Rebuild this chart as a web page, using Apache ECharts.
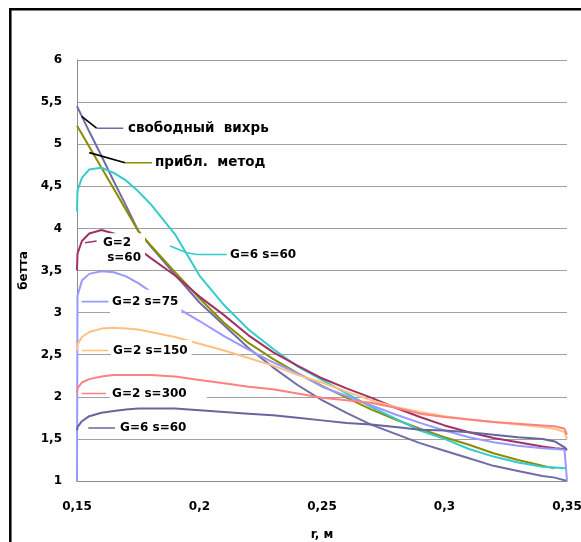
<!DOCTYPE html>
<html>
<head>
<meta charset="utf-8">
<script src="https://cdn.jsdelivr.net/npm/echarts@6/dist/echarts.min.js"></script>
<style>
html, body { margin: 0; padding: 0; background: #fff; }
#main { width: 581px; height: 542px; }
</style>
</head>
<body>
<div id="main"></div>
<script>
// радиус, м (общая сетка по оси x)
var rGrid = [0.15, 0.1502, 0.152, 0.155, 0.16, 0.165, 0.17, 0.175, 0.18, 0.19, 0.2, 0.21, 0.22, 0.23, 0.24,
  0.25, 0.26, 0.27, 0.28, 0.29, 0.3, 0.31, 0.32, 0.33, 0.34, 0.345, 0.349, 0.35];

// бетта для каждой кривой
var freeVortex = [5.45, 5.44, 5.33, 5.15, 4.86, 4.56, 4.27, 3.97, 3.79, 3.45, 3.12, 2.85, 2.58, 2.35, 2.14,
  1.96, 1.81, 1.67, 1.56, 1.45, 1.36, 1.27, 1.18, 1.12, 1.06, 1.04, 1.01, 1.0];
var approxMethod = [5.22, 5.21, 5.12, 4.97, 4.72, 4.47, 4.22, 3.97, 3.8, 3.48, 3.17, 2.88, 2.64, 2.45, 2.28,
  2.13, 1.99, 1.85, 1.73, 1.62, 1.52, 1.43, 1.33, 1.25, 1.18, 1.15, null, null];
var g6s60 = [4.2, 4.45, 4.6, 4.7, 4.72, 4.66, 4.57, 4.44, 4.29, 3.93, 3.44, 3.09, 2.8, 2.57, 2.36,
  2.2, 2.04, 1.88, 1.74, 1.6, 1.5, 1.38, 1.29, 1.22, 1.17, 1.16, 1.15, 1.15];
var g2s60 = [3.5, 3.7, 3.85, 3.94, 3.98, 3.94, 3.85, 3.76, 3.65, 3.44, 3.19, 2.97, 2.73, 2.53, 2.37,
  2.22, 2.1, 1.99, 1.87, 1.76, 1.66, 1.58, 1.51, 1.46, 1.41, 1.39, 1.38, 1.37];
var g2s75 = [1.0, 3.2, 3.38, 3.46, 3.49, 3.48, 3.43, 3.35, 3.25, 3.07, 2.9, 2.72, 2.56, 2.41, 2.28,
  2.12, 2.01, 1.9, 1.79, 1.69, 1.6, 1.52, 1.46, 1.42, 1.39, 1.38, 1.37, 1.0];
var g2s150 = [2.55, 2.62, 2.71, 2.77, 2.81, 2.82, 2.81, 2.8, 2.77, 2.71, 2.63, 2.55, 2.46, 2.37, 2.26,
  2.17, 2.06, 1.96, 1.88, 1.82, 1.77, 1.73, 1.7, 1.67, 1.64, 1.62, 1.58, 1.5];
var g2s300 = [2.05, 2.1, 2.17, 2.21, 2.24, 2.26, 2.26, 2.26, 2.26, 2.24, 2.2, 2.16, 2.12, 2.09, 2.04,
  1.99, 1.96, 1.93, 1.87, 1.8, 1.76, 1.73, 1.7, 1.68, 1.66, 1.65, 1.62, 1.55];
var g6s60low = [1.6, 1.64, 1.71, 1.77, 1.81, 1.83, 1.85, 1.86, 1.86, 1.86, 1.84, 1.82, 1.8, 1.78, 1.75,
  1.72, 1.69, 1.67, 1.64, 1.61, 1.6, 1.58, 1.55, 1.52, 1.5, 1.47, 1.4, 1.37];

var curves = [freeVortex, approxMethod, g6s60, g2s60, g2s75, g2s150, g2s300, g6s60low];
var curveColors = ['#6E6EA6', '#8C8C00', '#33CCCC', '#A03264', '#9999FF', '#FFC080', '#FF8080', '#66669E'];

// подписи кривых (текст, точка привязки в координатах графика)
var noteText = ['свободный  вихрь', 'прибл.  метод', 'G=6 s=60', 'G=2\n s=60', 'G=2 s=75', 'G=2 s=150', 'G=2 s=300', 'G=6 s=60'];
var noteAt = [[0.1708, 5.19], [0.1818, 4.78], [0.2124, 3.69], [0.1606, 3.74], [0.1643, 3.13], [0.1647, 2.55], [0.1643, 2.04], [0.1676, 1.63]];
var noteSize = [13.5, 13.5, 12, 12, 12, 12, 12, 12];
var notePad = [[1, 2, 1, 2], [1, 2, 1, 2], [1, 2, 1, 2], [2, 4, 2, 2], [4, 3, 5, 2], [2, 4, 4, 2], [2, 20, 3, 2], [1, 2, 1, 2]];

// выноски
var leaders = [
  { c: '#000', d: [[0.1519, 5.33], [0.158, 5.19]] },
  { c: 0, d: [[0.158, 5.19], [0.1689, 5.19]] },
  { c: '#000', d: [[0.155, 4.90], [0.1696, 4.78]] },
  { c: 1, d: [[0.1696, 4.78], [0.1806, 4.78]] },
  { c: 2, d: [[0.188, 3.79], [0.1948, 3.71], [0.1989, 3.69], [0.2111, 3.69]] },
  { c: 3, d: [[0.1533, 3.83], [0.158, 3.85]] },
  { c: 4, d: [[0.1519, 3.13], [0.1628, 3.13]] },
  { c: 5, d: [[0.1519, 2.55], [0.1628, 2.55]] },
  { c: 6, d: [[0.1519, 2.04], [0.1618, 2.04]] },
  { c: 7, d: [[0.1546, 1.63], [0.1655, 1.63]] }
];

var FONT = '"DejaVu Sans", Verdana, sans-serif';
function comma(v) { return String(Math.round(v * 100) / 100).replace('.', ','); }

var chart = echarts.init(document.getElementById('main'));
var series = [];
curves.forEach(function (ys, k) {
  var pts = [];
  for (var i = 0; i < rGrid.length; i++) {
    if (ys[i] != null) pts.push([rGrid[i], ys[i]]);
  }
  series.push({
    type: 'line', data: pts, showSymbol: false, silent: true, z: 2,
    lineStyle: { color: curveColors[k], width: 2 }
  });
});
leaders.forEach(function (l) {
  series.push({
    type: 'line', data: l.d, showSymbol: false, silent: true, z: 120,
    lineStyle: { color: typeof l.c === 'number' ? curveColors[l.c] : l.c, width: 1.6 }
  });
});

var option = {
  animation: false,
  backgroundColor: '#fff',
  grid: { left: 77, right: 14, top: 60, bottom: 61, outerBoundsMode: 'none' },
  xAxis: {
    type: 'value', min: 0.15, max: 0.35, interval: 0.05,
    name: 'r, м', nameLocation: 'middle', nameGap: 48,
    nameTextStyle: { color: '#000', fontFamily: FONT, fontWeight: 'bold', fontSize: 12 },
    axisLine: { show: true, lineStyle: { color: '#8c8c8c', width: 1 } },
    axisTick: { show: false },
    axisLabel: { color: '#000', fontFamily: FONT, fontWeight: 'bold', fontSize: 12, margin: 20, formatter: comma },
    splitLine: { show: false }
  },
  yAxis: {
    type: 'value', min: 1, max: 6, interval: 0.5,
    name: 'бетта', nameLocation: 'middle', nameGap: 46,
    nameTextStyle: { color: '#000', fontFamily: FONT, fontWeight: 'bold', fontSize: 12 },
    axisLine: { show: true, lineStyle: { color: '#8c8c8c', width: 1 } },
    axisTick: { show: false },
    axisLabel: { color: '#000', fontFamily: FONT, fontWeight: 'bold', fontSize: 12, margin: 15, formatter: comma },
    splitLine: { show: true, lineStyle: { color: '#a0a0a0', width: 1 } }
  },
  series: series
};
chart.setOption(option);

// рамка и подписи
var graphics = [{
  type: 'rect', z: 200, silent: true,
  shape: { x: 10.3, y: 9.2, width: 800, height: 800 },
  style: { fill: null, stroke: '#000', lineWidth: 2.5 }
}];
noteText.forEach(function (t, i) {
  var p = chart.convertToPixel({ xAxisIndex: 0, yAxisIndex: 0 }, noteAt[i]);
  var pad = notePad[i];
  graphics.push({
    type: 'text', z: 100, silent: true,
    x: p[0] - pad[3], y: p[1],
    style: {
      text: t, fill: '#000', font: 'bold ' + noteSize[i] + 'px ' + FONT, lineHeight: 15,
      align: 'left', verticalAlign: 'middle',
      backgroundColor: '#fff', padding: pad
    }
  });
});
chart.setOption({ graphic: graphics });
</script>
</body>
</html>
